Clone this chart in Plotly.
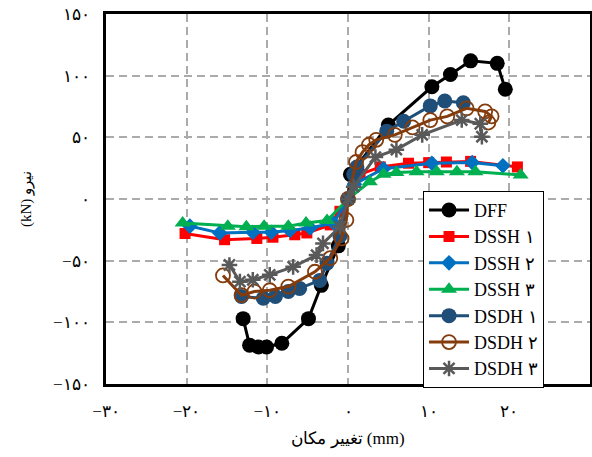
import plotly.graph_objects as go

# ---- data (displacement mm, force kN) ----
dff_d = [-13.0, -12.2, -11.1, -10.1, -8.2, -4.9, -3.3, -1.2, 0, 0.3, 5.0, 10.4, 12.7, 15.2, 18.5, 19.5]
dff_f = [-97, -118.5, -120, -120, -117, -97, -70, -38, 0, 20, 60, 91, 101, 112, 110, 89]

dssh1_d = [-20.2, -15.3, -11.3, -9.3, -6.6, -5.1, -2.2, -1.0, 0, 1.5, 4.0, 7.5, 10.0, 12.2, 15.2, 21.0]
dssh1_f = [-28, -33, -32, -31, -29, -27.5, -21, -10, 0, 20, 26, 29, 29.5, 30, 30.5, 26]

dssh2_d = [-19.6, -15.9, -11.8, -9.5, -7.2, -4.7, -1.8, 0, 0.8, 4.4, 10.4, 15.4, 19.2]
dssh2_f = [-22, -27.5, -27, -27, -25.5, -23.5, -19.5, 0, 12, 24.5, 29, 29.5, 27]

dssh3_d = [-20.5, -14.9, -12.6, -10.4, -7.4, -5.2, -2.6, 0, 2.7, 4.4, 6.0, 8.5, 11.0, 13.5, 15.8, 21.4]
dssh3_f = [-19.5, -22, -22.5, -22, -22, -19.5, -17.5, 0, 14, 20, 21.5, 22, 22, 22, 22, 19.5]

dsdh1_d = [-13.2, -10.5, -9.0, -7.4, -6.0, -3.5, -2.6, -1.0, 0, 0.7, 1.1, 4.8, 6.9, 10.2, 12.0, 14.3]
dsdh1_f = [-79, -80.5, -79, -75, -72.5, -66, -52, -30, 0, 20, 26, 55, 63, 75.5, 79.5, 78]

dsdh2_d = [-15.5, -13.2, -11.6, -9.7, -7.4, -4.1, -2.2, -0.8, -0.2, 0, 1.0, 1.8, 2.6, 3.5, 5.8, 8.0, 10.2, 12.3, 14.7, 17.0, 17.8, 17.4]
dsdh2_f = [-62, -78, -75, -74, -71, -59, -48, -32, -17, 0, 30, 38, 44, 48, 52, 58, 64, 67, 73.5, 71, 67, 62]

dsdh3_d = [-14.7, -13.4, -11.8, -9.7, -6.8, -3.9, -3.1, -1.0, 0, 0.7, 3.4, 6.0, 9.2, 14.1, 16.4, 16.6]
dsdh3_f = [-53.5, -67, -65.5, -61.5, -55, -45.5, -36, -22.5, 0, 10, 34, 40, 52, 64, 61, 50.5]

x_tickvals = [-30, -20, -10, 0, 10, 20, 30]
x_ticktext = ["−۳۰", "−۲۰", "−۱۰", "۰", "۱۰", "۲۰", "۳۰"]
y_tickvals = [-150, -100, -50, 0, 50, 100, 150]
y_ticktext = ["−۱۵۰", "−۱۰۰", "−۵۰", "۰", "۵۰", "۱۰۰", "۱۵۰"]

series = [
    ("DFF", dff_d, dff_f, "#000000", dict(symbol="circle", size=15, color="#000000")),
    ("DSSH ۱", dssh1_d, dssh1_f, "#FF0000", dict(symbol="square", size=11, color="#FF0000")),
    ("DSSH ۲", dssh2_d, dssh2_f, "#0070C0", dict(symbol="diamond", size=12, color="#0070C0")),
    ("DSSH ۳", dssh3_d, dssh3_f, "#00B050", dict(symbol="triangle-up", size=14, color="#00B050")),
    ("DSDH ۱", dsdh1_d, dsdh1_f, "#1F4E79", dict(symbol="circle", size=15, color="#1F4E79")),
    ("DSDH ۲", dsdh2_d, dsdh2_f, "#843C0C", dict(symbol="circle-open", size=14, color="#843C0C", line=dict(width=1.8, color="#843C0C"))),
    ("DSDH ۳", dsdh3_d, dsdh3_f, "#595959", dict(symbol="asterisk-open", size=13, color="#595959", line=dict(width=2.5, color="#595959"))),
]

fig = go.Figure()
for name, d, f, col, mk in series:
    fig.add_trace(go.Scatter(x=d, y=f, name=name, mode="lines+markers",
                             line=dict(color=col, width=3), marker=mk))

font_fam = '"Liberation Serif", "DejaVu Serif", serif'
fig.update_layout(
    width=592, height=457,
    margin=dict(l=106, r=2, t=14, b=73),
    paper_bgcolor="white", plot_bgcolor="white",
    font=dict(family=font_fam, color="black", size=17),
    showlegend=True,
    legend=dict(x=0.655, y=0.522, xanchor="left", yanchor="top",
                bgcolor="white", bordercolor="black", borderwidth=1,
                font=dict(size=18, family=font_fam), tracegroupgap=0,
                itemwidth=40),
    xaxis=dict(range=[-30, 30], tickvals=x_tickvals, ticktext=x_ticktext,
               showgrid=True, gridcolor="#ABABAB", griddash="8px,5px", gridwidth=1.5,
               zeroline=False, showline=True, linecolor="black", linewidth=3, mirror=True,
               ticks="", ticklabelstandoff=10, automargin=False,
               title=dict(text="تغییر مکان (mm)", font=dict(size=17), standoff=12)),
    yaxis=dict(range=[-150, 150], tickvals=y_tickvals, ticktext=y_ticktext,
               showgrid=True, gridcolor="#ABABAB", griddash="8px,5px", gridwidth=1.5,
               zeroline=False, showline=True, linecolor="black", linewidth=3, mirror=True,
               ticks="", ticklabelstandoff=10, automargin=False,
               title=dict(text="(kN) نیرو", font=dict(size=15), standoff=18)),
)

fig.write_html("out.html", config={"displayModeBar": False},
               post_script="document.body.style.margin='0';")
